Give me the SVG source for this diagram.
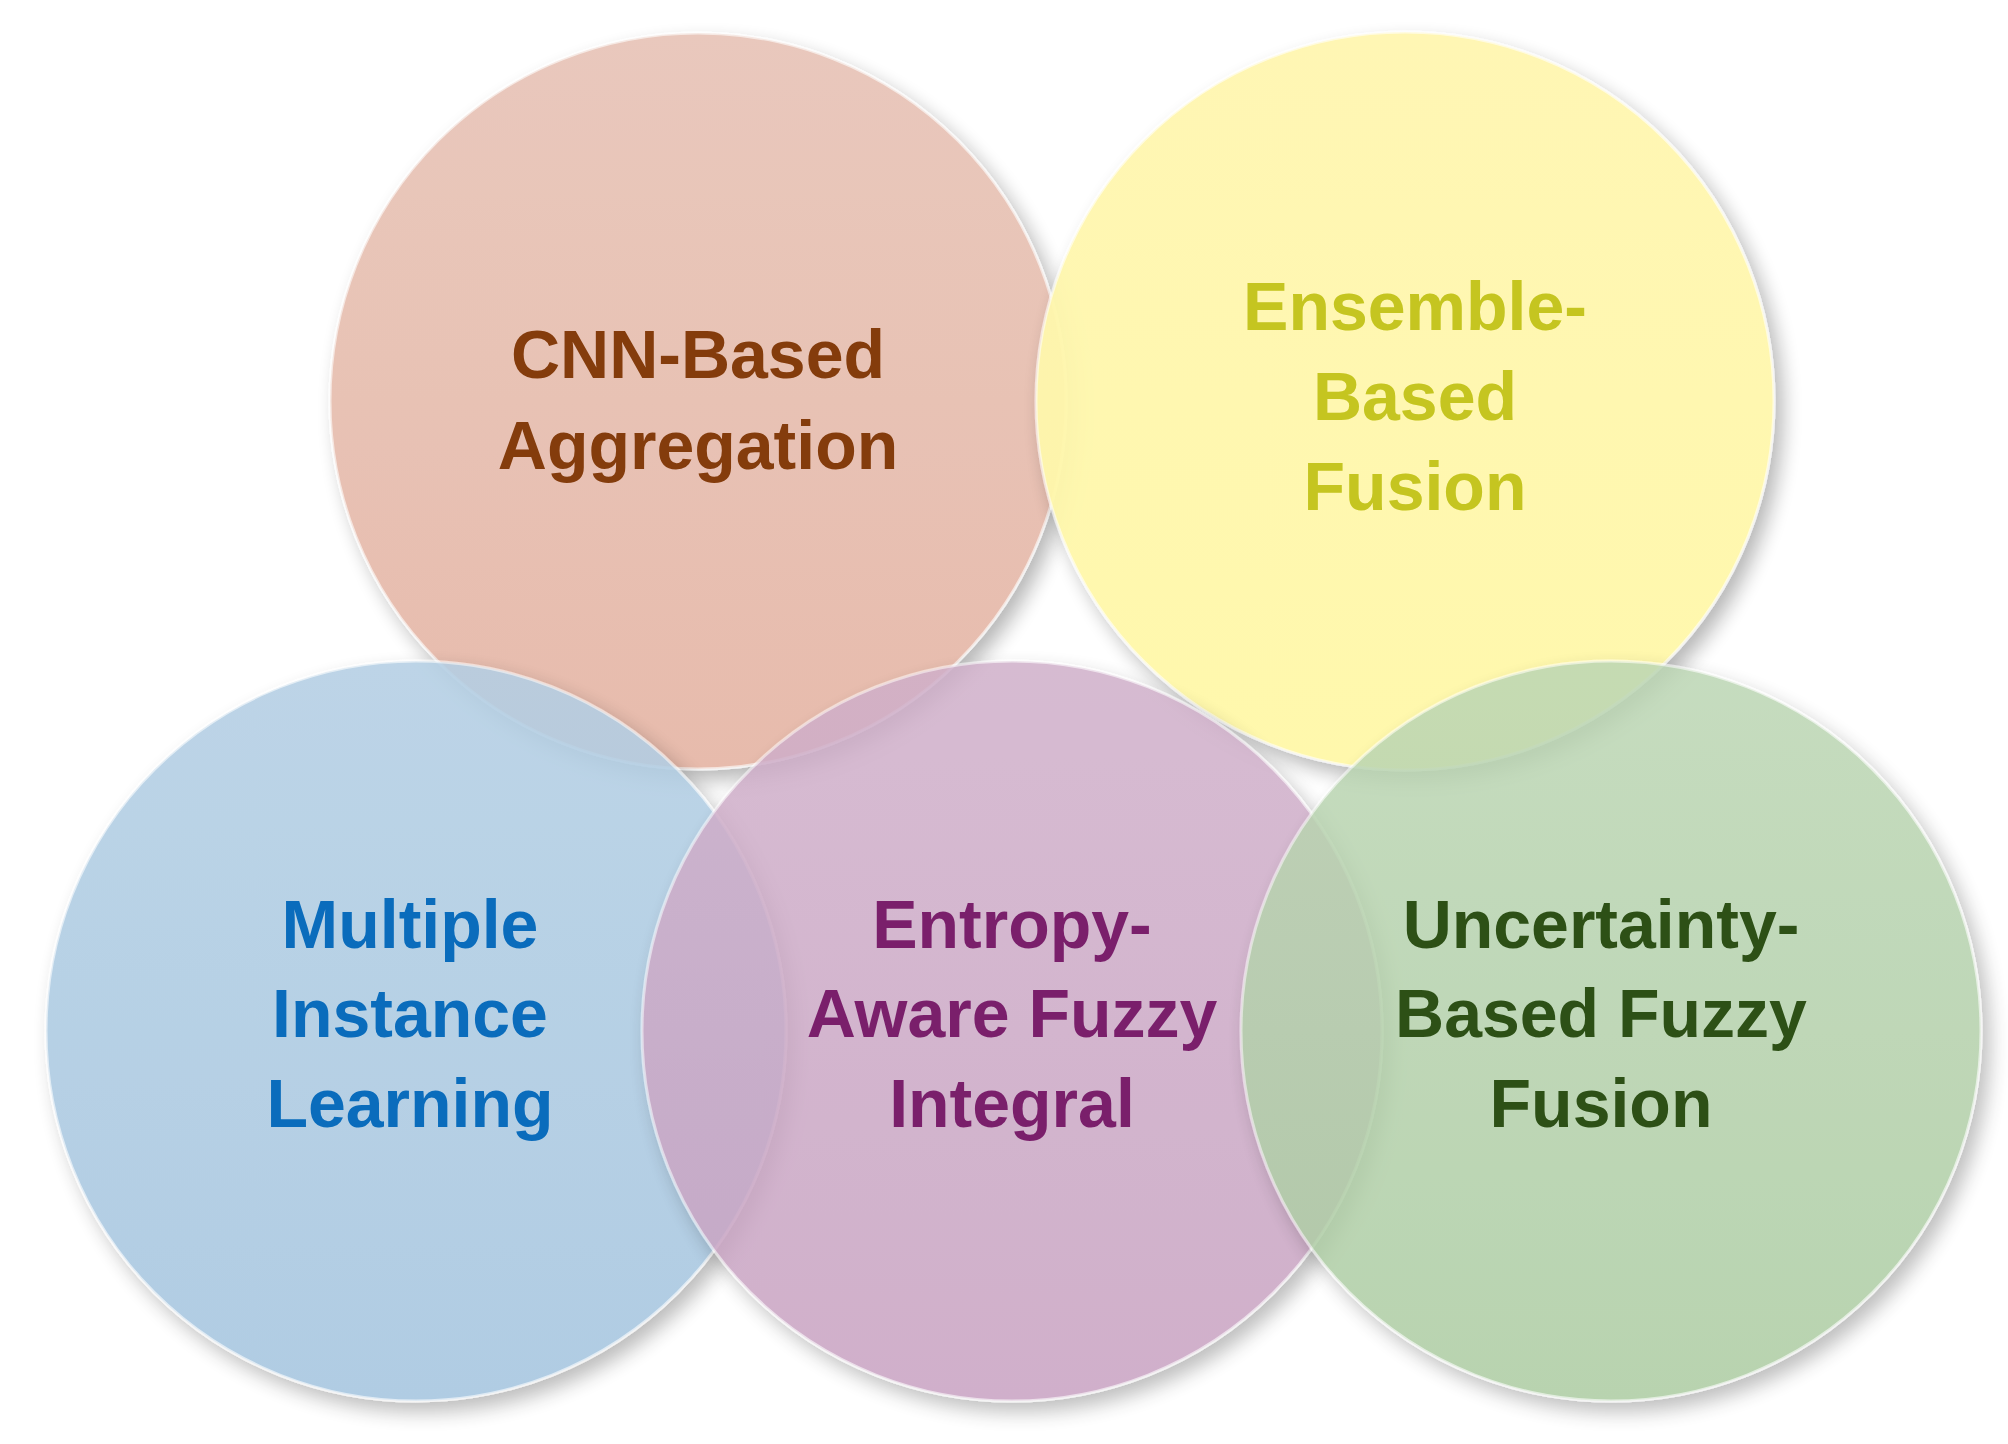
<svg xmlns="http://www.w3.org/2000/svg" width="2008" height="1444" viewBox="0 0 2008 1444">
<style>
.c{stroke:#ffffff;stroke-opacity:0.6;stroke-width:3;filter:url(#sh)}
.t{font-family:"Liberation Sans",Arial,sans-serif;font-weight:bold;font-size:68px;text-anchor:middle}
</style>
<defs>
<filter id="sh" x="-20%" y="-20%" width="140%" height="140%"><feDropShadow dx="8" dy="10" stdDeviation="10" flood-color="#000" flood-opacity="0.3"/></filter>
<linearGradient id="g1" x1="0" y1="0" x2="0" y2="1"><stop offset="0" stop-color="#e8c6ba"/><stop offset="1" stop-color="#e6b8a8"/></linearGradient>
<linearGradient id="g2" x1="0" y1="0" x2="0" y2="1"><stop offset="0" stop-color="#fff6b0"/><stop offset="1" stop-color="#fff8a8"/></linearGradient>
<linearGradient id="g3" x1="0" y1="0" x2="0" y2="1"><stop offset="0" stop-color="#b4cfe4"/><stop offset="1" stop-color="#a6c6e0"/></linearGradient>
<linearGradient id="g4" x1="0" y1="0" x2="0" y2="1"><stop offset="0" stop-color="#d0b0ca"/><stop offset="1" stop-color="#c8a2c2"/></linearGradient>
<linearGradient id="g5" x1="0" y1="0" x2="0" y2="1"><stop offset="0" stop-color="#bcd6b4"/><stop offset="1" stop-color="#accca2"/></linearGradient>
</defs>
<rect width="2008" height="1444" fill="#ffffff"/>
<g id="cnn"><circle class="c" cx="698" cy="401" r="368" fill="url(#g1)" opacity="0.95"/></g>
<g id="ensemble"><circle class="c" cx="1405" cy="401" r="369" fill="url(#g2)" opacity="0.95"/></g>
<g id="mil"><circle class="c" cx="416" cy="1031" r="370" fill="url(#g3)" opacity="0.88"/></g>
<g id="entropy"><circle class="c" cx="1012" cy="1031" r="370" fill="url(#g4)" opacity="0.85"/></g>
<g id="uncertainty"><circle class="c" cx="1611" cy="1031" r="370" fill="url(#g5)" opacity="0.85"/></g>
<g id="labels">
<text class="t" fill="#843c0c"><tspan x="698" y="378">CNN-Based</tspan><tspan x="698" y="469">Aggregation</tspan></text>
<text class="t" fill="#c5c520"><tspan x="1415" y="330">Ensemble-</tspan><tspan x="1415" y="420">Based</tspan><tspan x="1415" y="510">Fusion</tspan></text>
<text class="t" fill="#0a6cbc"><tspan x="410" y="948">Multiple</tspan><tspan x="410" y="1037">Instance</tspan><tspan x="410" y="1127">Learning</tspan></text>
<text class="t" fill="#7a1f6b"><tspan x="1012" y="948">Entropy-</tspan><tspan x="1012" y="1037">Aware Fuzzy</tspan><tspan x="1012" y="1127">Integral</tspan></text>
<text class="t" fill="#2d5016"><tspan x="1601" y="948">Uncertainty-</tspan><tspan x="1601" y="1037">Based Fuzzy</tspan><tspan x="1601" y="1127">Fusion</tspan></text>
</g>
<g id="connectors"/>
</svg>
